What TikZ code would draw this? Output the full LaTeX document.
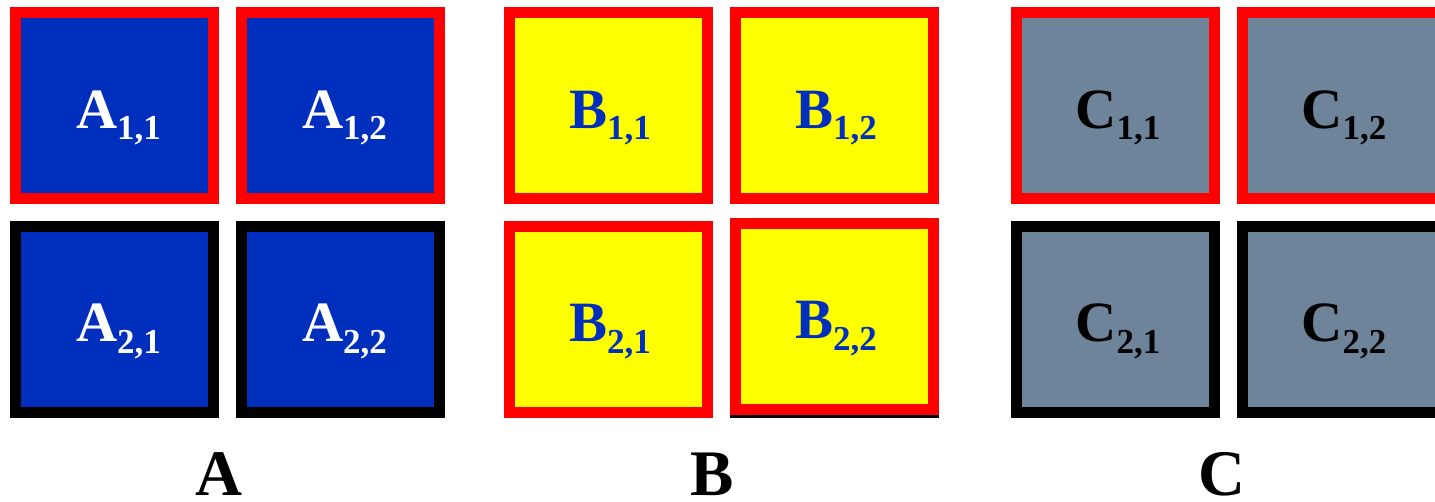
\documentclass[tikz,border=0pt]{standalone}
\usepackage{xcolor}
\usepackage{fontspec}
\setmainfont{Liberation Serif}
\usepackage{tikz}
\usetikzlibrary{calc,positioning}

\definecolor{cellblue}{RGB}{0,46,189}
\definecolor{cellgray}{RGB}{110,132,155}
\definecolor{cellyellow}{RGB}{255,255,0}
\newcommand{\subidx}[1]{\raisebox{-.21em}{\fontsize{35}{35}\selectfont #1}}

\tikzset{
    cell/.style = {draw=red, line width=11pt, minimum width=198pt, minimum height=186pt,
                   inner sep=0pt, text height=45pt, text depth=0pt,
                   font=\fontsize{57}{60}\selectfont\bfseries},
    blk/.style  = {draw=black},
    matname/.style = {anchor=base, inner sep=0pt, text depth=0pt, font=\fontsize{65}{70}\selectfont\bfseries}
}

\begin{document}
\begin{tikzpicture}[x=1pt, y=-1pt]
        \useasboundingbox (0,0) rectangle (1435,501);

        % A
        \node[cell, fill=cellblue, text=white] (a11) at (114.5, 105.5) {\hspace*{8pt}A\subidx{1,1}};
        \node[cell, fill=cellblue, text=white] (a12) at (340.5, 105.5) {\hspace*{8pt}A\subidx{1,2}};
        \node[cell, blk, fill=cellblue, text=white] (a21) at (114.5, 319) {\hspace*{8pt}A\subidx{2,1}};
        \node[cell, blk, fill=cellblue, text=white] (a22) at (340.5, 319) {\hspace*{8pt}A\subidx{2,2}};

        % B
        \node[cell, fill=cellyellow, text=cellblue] (b11) at (608, 105.5) {\hspace*{4pt}B\subidx{1,1}};
        \node[cell, fill=cellyellow, text=cellblue] (b12) at (834, 105.5) {\hspace*{4pt}B\subidx{1,2}};
        \node[cell, fill=cellyellow, text=cellblue] (b21) at (608, 319) {\hspace*{4pt}B\subidx{2,1}};
        \node[cell, blk, fill=cellyellow] (b22s) at (834, 319) {}; % shadow under B22
        \node[cell, fill=cellyellow, text=cellblue] (b22) at (834, 316) {\hspace*{4pt}B\subidx{2,2}};

        % C
        \node[cell, fill=cellgray] (c11) at (1115, 105.5) {\hspace*{6pt}C\subidx{1,1}};
        \node[cell, fill=cellgray] (c12) at (1341, 105.5) {\hspace*{6pt}C\subidx{1,2}};
        \node[cell, blk, fill=cellgray] (c21) at (1115, 319) {\hspace*{6pt}C\subidx{2,1}};
        \node[cell, blk, fill=cellgray] (c22) at (1341, 319) {\hspace*{6pt}C\subidx{2,2}};

        \node[matname] (labA) at (219, 495) {A};
        \node[matname] (labB) at (712.5, 495) {B};
        \node[matname] (labC) at (1221.5, 495) {C};

    \end{tikzpicture}
\end{document}
